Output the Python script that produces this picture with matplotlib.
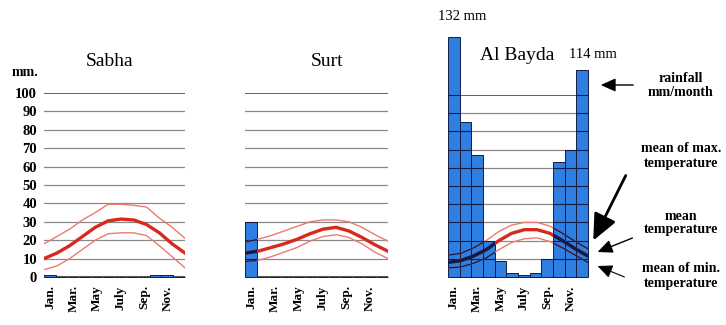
import matplotlib
matplotlib.use("Agg")
import matplotlib.pyplot as plt
from matplotlib.path import Path

plt.rcParams['font.family'] = ['Liberation Serif', 'DejaVu Serif']

W, H = 726, 325

months = ['Jan', 'Feb', 'Mar', 'Apr', 'May', 'Jun', 'Jul', 'Aug', 'Sep', 'Oct', 'Nov', 'Dec']
tick_labels = ['Jan.', 'Mar.', 'May', 'July', 'Sep.', 'Nov.']
y_ticks = [0, 10, 20, 30, 40, 50, 60, 70, 80, 90, 100]

# Sabha
sabha_rain = [1, 0, 0, 0, 0, 0, 0, 0, 0, 1, 1, 0]
sabha_max = [18, 22, 26, 31, 35, 39.5, 39.5, 39, 38, 32, 27, 21]
sabha_mean = [10, 13, 17, 22, 27, 30.5, 31.5, 31, 28.5, 24, 18, 13]
sabha_min = [4, 6, 10, 15, 20, 23.5, 24, 24, 22.5, 17, 11, 5]

# Surt
surt_rain = [30, 0, 0, 0, 0, 0, 0, 0, 0, 0, 0, 0]
surt_max = [19, 20.5, 22.5, 25, 27.5, 30, 31, 31, 30, 27, 23, 19.5]
surt_mean = [13, 14, 16, 18, 20.5, 23.5, 26, 27, 25, 21.5, 17.5, 14]
surt_min = [8.5, 9, 11, 13.5, 16, 19.5, 22, 23, 21.5, 18, 13.5, 10]

# Al Bayda
bayda_rain = [132, 85, 67, 20, 9, 2, 1, 2, 10, 63, 70, 114]
bayda_max = [12, 13, 16, 20, 25, 28.5, 30, 30, 28, 24, 19.5, 15.5]
bayda_mean = [8, 9, 11.5, 15, 20, 24, 26, 26, 24, 20, 15.5, 11.5]
bayda_min = [5, 5.5, 7.5, 10.5, 15, 19, 21, 21.5, 19.5, 16, 12, 8]

BAR = '#2f7fe3'
DARK = '#101c48'
RED = '#d8291c'
PINK = '#ec7a70'


def px_axes(fig, left, right, top, bottom):
    return fig.add_axes([left / W, 1 - bottom / H, (right - left) / W, (bottom - top) / H])


def climate_panel(ax, rain, tmax, tmean, tmin, show_y):
    x = range(len(months))
    ax.set_xlim(-0.5, 11.5)
    ax.set_ylim(0, 100)
    for s in ax.spines.values():
        s.set_visible(False)

    # grid lines
    for y in y_ticks[1:-1]:
        ax.axhline(y, color='#8a8a8a', lw=0.9, zorder=0)
    ax.axhline(100, color='#555555', lw=1.3, zorder=0)
    ax.axhline(0, color='#5a5a5a', lw=1.5, zorder=0)

    bars = ax.bar(x, rain, width=1.0, color=BAR, edgecolor=DARK, linewidth=0.7,
                  zorder=2, clip_on=False)
    bar_path = Path.make_compound_path(
        *[b.get_path().transformed(b.get_patch_transform()) for b in bars])

    # dark grid lines where they run over the bars
    for y in y_ticks[1:]:
        ln = ax.axhline(y, color=DARK, lw=0.8, zorder=3)
        ln.set_clip_path(bar_path, ax.transData)

    ax.set_xticks([0, 2, 4, 6, 8, 10])
    ax.set_xticklabels(tick_labels, rotation=90, fontsize=9.5, fontweight='bold')
    ax.tick_params(axis='x', length=0, pad=6)
    if show_y:
        ax.set_yticks(y_ticks)
        ax.set_yticklabels([str(v) for v in y_ticks], fontsize=10.5, fontweight='bold')
        ax.tick_params(axis='y', length=0, pad=5)
    else:
        ax.set_yticks([])

    # temperature curves span the full width
    ax2 = ax.twiny()
    ax2.set_xlim(0, 11)
    ax2.axis('off')
    red = [
        ax2.plot(x, tmax, color=PINK, lw=1.0)[0],
        ax2.plot(x, tmin, color=PINK, lw=1.0)[0],
        ax2.plot(x, tmean, color=RED, lw=2.4)[0],
    ]
    for ln, lw in zip(red, [1.0, 1.0, 2.4]):
        d = ax2.plot(ln.get_xdata(), ln.get_ydata(), color=DARK, lw=lw)[0]
        d.set_clip_path(bar_path, ax.transData)


fig = plt.figure(figsize=(W / 100, H / 100), dpi=100)

ax1 = px_axes(fig, 44, 185, 93, 277)
climate_panel(ax1, sabha_rain, sabha_max, sabha_mean, sabha_min, True)
ax2 = px_axes(fig, 245, 388, 93, 277)
climate_panel(ax2, surt_rain, surt_max, surt_mean, surt_min, False)
ax3 = px_axes(fig, 448, 588, 95, 277)
climate_panel(ax3, bayda_rain, bayda_max, bayda_mean, bayda_min, False)


def ftext(x, y, s, **kw):
    fig.text(x / W, 1 - y / H, s, ha='center', va='center', **kw)


ftext(110, 62, 'Sabha', fontsize=14)
ftext(327, 62, 'Surt', fontsize=14)
ftext(517, 56, 'Al Bayda', fontsize=14)
ftext(25, 72, 'mm.', fontsize=10, fontweight='bold')
ftext(462, 17, '132 mm', fontsize=10.5)
ftext(593, 55, '114 mm', fontsize=10.5)

ftext(681, 85, 'rainfall\nmm/month', fontsize=10, fontweight='bold', linespacing=1.1)
ftext(681, 156, 'mean of max.\ntemperature', fontsize=10, fontweight='bold', linespacing=1.1)
ftext(681, 223, 'mean\ntemperature', fontsize=10, fontweight='bold', linespacing=1.1)
ftext(681, 276, 'mean of min.\ntemperature', fontsize=10, fontweight='bold', linespacing=1.1)


def farrow(x0, y0, x1, y1, lw, head):
    fig.add_artist(matplotlib.patches.FancyArrowPatch(
        (x0 / W, 1 - y0 / H), (x1 / W, 1 - y1 / H), transform=fig.transFigure,
        arrowstyle=f'-|>,head_length={head},head_width={head * 0.45}',
        color='black', lw=lw, mutation_scale=10))


farrow(636, 85, 598, 85, 1.0, 0.9)
farrow(627, 173, 592, 243, 2.0, 1.6)
farrow(635, 237, 595, 253, 1.0, 0.9)
farrow(627, 278, 595, 265, 0.8, 0.9)

fig.savefig('out.png', dpi=100)
